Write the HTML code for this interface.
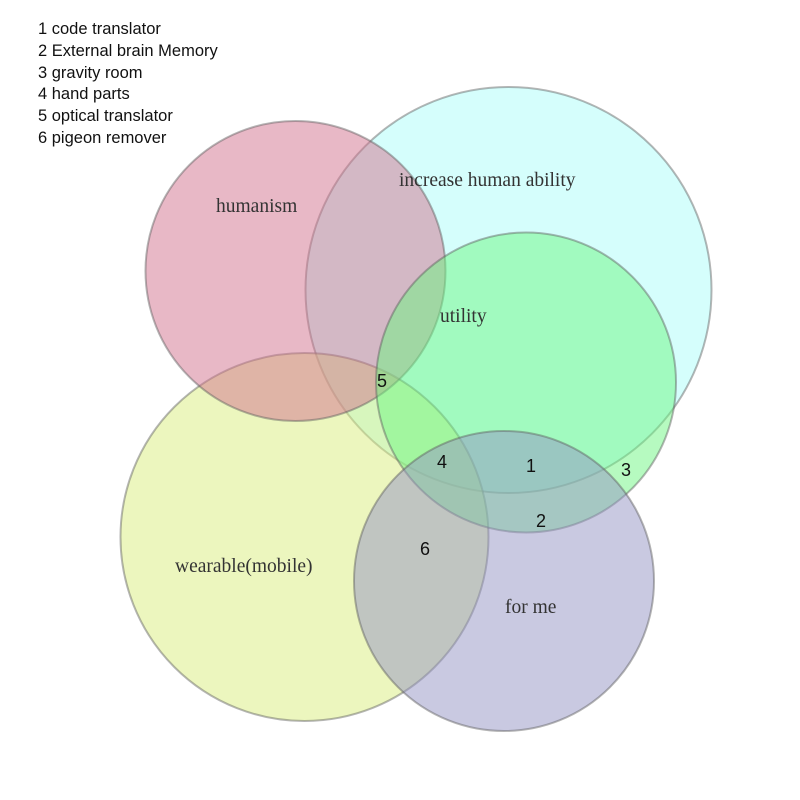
<!DOCTYPE html>
<html><head><meta charset="utf-8"><style>
html,body{margin:0;padding:0;background:#fff;}
svg{display:block}
</style></head><body>
<svg width="800" height="800" viewBox="0 0 800 800" xmlns="http://www.w3.org/2000/svg">
<rect width="800" height="800" fill="#fff"/>
<g stroke="rgba(90,90,90,0.45)" stroke-width="2">
<circle cx="508.5" cy="290" r="203" fill="rgba(171,253,249,0.5)"/>
<circle cx="304.5" cy="537" r="184" fill="rgba(217,237,125,0.5)"/>
<circle cx="295.5" cy="271" r="150" fill="rgba(209,113,141,0.5)"/>
<circle cx="526" cy="382.5" r="150" fill="rgba(110,245,130,0.5)"/>
<circle cx="504" cy="581" r="150" fill="rgba(147,147,195,0.5)"/>
</g>
<g font-family="'Liberation Serif', serif" font-size="19.5" fill="#333">
<text x="216" y="212">humanism</text>
<text x="399" y="186">increase human ability</text>
<text x="440" y="322">utility</text>
<text x="175" y="572">wearable(mobile)</text>
<text x="505" y="613">for me</text>
</g>
<g font-family="'Liberation Sans', sans-serif" font-size="16.5" fill="#111">
<text x="38" y="34">1 code translator</text>
<text x="38" y="56">2 External brain Memory</text>
<text x="38" y="78">3 gravity room</text>
<text x="38" y="99">4 hand parts</text>
<text x="38" y="121">5 optical translator</text>
<text x="38" y="143">6 pigeon remover</text>
</g>
<g font-family="'Liberation Sans', sans-serif" font-size="18" fill="#111">
<text x="377" y="387">5</text>
<text x="437" y="468">4</text>
<text x="526" y="472">1</text>
<text x="621" y="476">3</text>
<text x="536" y="527">2</text>
<text x="420" y="555">6</text>
</g>
</svg>
</body></html>
